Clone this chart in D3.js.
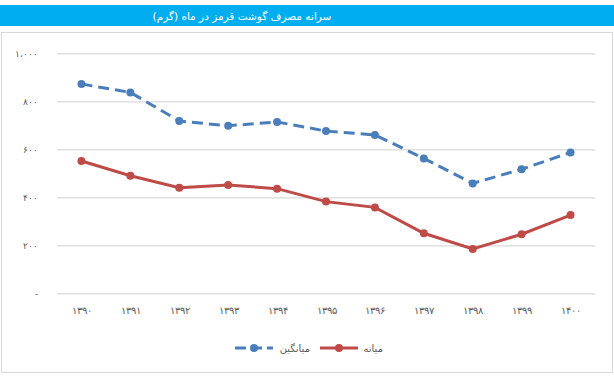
<!DOCTYPE html>
<html>
<head>
<meta charset="utf-8">
<script src="https://cdn.jsdelivr.net/npm/d3@7"></script>
<style>
  body { margin: 0; background: #fff; }
  svg { display: block; font-family: "DejaVu Sans", sans-serif; }
</style>
</head>
<body>
<div id="chart"></div>
<script>
// Data
const years = ["۱۳۹۰", "۱۳۹۱", "۱۳۹۲", "۱۳۹۳", "۱۳۹۴", "۱۳۹۵", "۱۳۹۶", "۱۳۹۷", "۱۳۹۸", "۱۳۹۹", "۱۴۰۰"];
const meanValues = [872, 837, 718, 698, 714, 676, 660, 562, 458, 517, 587];
const medianValues = [551, 490, 440, 451, 436, 382, 358, 250, 185, 246, 326];
const yTicks = [0, 200, 400, 600, 800, 1000];
const yTickLabels = ["-", "۲۰۰", "۴۰۰", "۶۰۰", "۸۰۰", "۱،۰۰۰"];
const title = "سرانه مصرف گوشت قرمز در ماه (گرم)";
const meanName = "میانگین";
const medianName = "میانه";

const W = 614, H = 378;
const blue = "#4a7ebb", red = "#be4b48";

const svg = d3.select("#chart").append("svg")
  .attr("width", W).attr("height", H);

// title bar
svg.append("rect")
  .attr("x", 0).attr("y", 5).attr("width", W).attr("height", 21)
  .attr("fill", "#00aeef");
svg.append("text")
  .attr("x", 242).attr("y", 19.5)
  .attr("text-anchor", "middle")
  .attr("fill", "#fff")
  .attr("font-size", 10.5)
  .attr("direction", "rtl")
  .text(title);

// chart frame
svg.append("rect")
  .attr("x", 1.5).attr("y", 32.5).attr("width", W - 3).attr("height", 340)
  .attr("fill", "#fff")
  .attr("stroke", "#d9d9d9");

const x = d3.scalePoint()
  .domain(years)
  .range([57, 595])
  .padding(0.5);

const y = d3.scaleLinear()
  .domain([0, 1000])
  .range([293.3, 53.3]);

// gridlines
svg.append("g")
  .attr("transform", "translate(57,0)")
  .call(d3.axisLeft(y).tickValues(yTicks).tickSize(-538).tickFormat((d, i) => yTickLabels[i]))
  .call(g => g.select(".domain").remove())
  .call(g => g.selectAll(".tick line").attr("stroke", "#d9d9d9").attr("stroke-width", 1.2))
  .call(g => g.selectAll(".tick text")
    .attr("x", -19)
    .attr("fill", "#595959")
    .attr("font-size", 9));

// x axis labels
svg.append("g")
  .attr("transform", "translate(0,293.3)")
  .call(d3.axisBottom(x).tickSize(0).tickPadding(14))
  .call(g => g.select(".domain").remove())
  .call(g => g.selectAll(".tick text")
    .attr("fill", "#595959")
    .attr("font-size", 10));

const line = d3.line()
  .x((d, i) => x(years[i]))
  .y(d => y(d));

function drawSeries(values, color, dash) {
  svg.append("path")
    .datum(values)
    .attr("fill", "none")
    .attr("stroke", color)
    .attr("stroke-width", 3)
    .attr("stroke-dasharray", dash)
    .attr("d", line);
  svg.append("g").selectAll("circle")
    .data(values)
    .enter().append("circle")
    .attr("cx", (d, i) => x(years[i]))
    .attr("cy", d => y(d))
    .attr("r", 4)
    .attr("fill", color);
}

drawSeries(meanValues, blue, "11,6");
drawSeries(medianValues, red, null);

// legend
const legend = svg.append("g");
legend.append("line")
  .attr("x1", 235).attr("x2", 273).attr("y1", 348).attr("y2", 348)
  .attr("stroke", blue).attr("stroke-width", 3).attr("stroke-dasharray", "11,5");
legend.append("circle").attr("cx", 254).attr("cy", 348).attr("r", 4).attr("fill", blue);
legend.append("text")
  .attr("x", 310).attr("y", 352)
  .attr("text-anchor", "end")
  .attr("fill", "#595959").attr("font-size", 10)
  .text(meanName);
legend.append("line")
  .attr("x1", 320).attr("x2", 358).attr("y1", 348).attr("y2", 348)
  .attr("stroke", red).attr("stroke-width", 3);
legend.append("circle").attr("cx", 339).attr("cy", 348).attr("r", 4).attr("fill", red);
legend.append("text")
  .attr("x", 383).attr("y", 352)
  .attr("text-anchor", "end")
  .attr("fill", "#595959").attr("font-size", 10)
  .text(medianName);
</script>
</body>
</html>
